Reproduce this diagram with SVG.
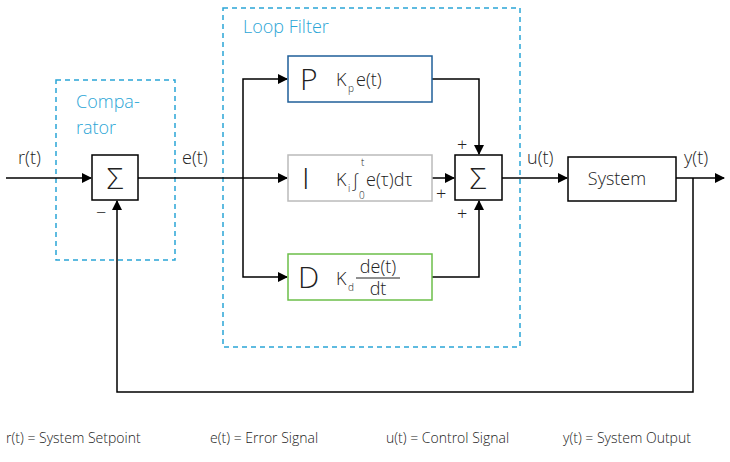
<svg xmlns="http://www.w3.org/2000/svg" width="730" height="462" viewBox="0 0 730 462">
<style>
text{font-family:"Open Sans","DejaVu Sans",sans-serif;fill:#222;font-weight:300}
.ln{stroke:#000;stroke-width:1.5;fill:none}
.dash{stroke:#2aa5d6;stroke-width:1.5;fill:none;stroke-dasharray:5,4}
.lbl{font-size:18px}
.cy{fill:#2aa5d6;font-size:18px}
.big{font-size:30px}
.sm{font-size:18px}
.sub{font-size:10px}
.leg{font-size:14px}
</style>
<defs><marker id="a" markerWidth="10" markerHeight="10" refX="9" refY="5" orient="auto" markerUnits="userSpaceOnUse"><path d="M0,0L10,5L0,10z" fill="#000"/></marker></defs>
<rect width="730" height="462" fill="#fff"/>
<g id="comparator"><rect class="dash" x="56" y="80" width="119" height="180"/><text class="cy" x="76" y="108">Compa-</text><text class="cy" x="76" y="134">rator</text></g>
<g id="loopfilter"><rect class="dash" x="223" y="8" width="297" height="339"/><text class="cy" x="243" y="33">Loop Filter</text></g>
<g id="connectors">
<path class="ln" d="M6,178H91" marker-end="url(#a)"/>
<path class="ln" d="M138,178H287" marker-end="url(#a)"/>
<path class="ln" d="M243,178V79H287" marker-end="url(#a)"/>
<path class="ln" d="M243,178V277H287" marker-end="url(#a)"/>
<path class="ln" d="M432,79H479V154" marker-end="url(#a)"/>
<path class="ln" d="M432,178H454" marker-end="url(#a)"/>
<path class="ln" d="M432,277H479V201" marker-end="url(#a)"/>
<path class="ln" d="M502,178H567" marker-end="url(#a)"/>
<path class="ln" d="M676,178H724" marker-end="url(#a)"/>
<path class="ln" d="M693,178V392H117V201" marker-end="url(#a)"/>
</g>
<g id="sum1"><rect class="ln" x="92" y="155" width="46" height="45" fill="#fff"/><text class="big" x="115" y="189" text-anchor="middle">Σ</text></g>
<g id="P"><rect x="288" y="56" width="144" height="46" fill="#fff" stroke="#1f5f99" stroke-width="1.5"/><text class="big" x="300" y="90">P</text><text class="sm" x="336" y="86">K</text><text class="sub" x="348" y="92">p</text><text class="sm" x="356" y="86">e(t)</text></g>
<g id="I"><rect x="288" y="155" width="144" height="46" fill="#fff" stroke="#bbb" stroke-width="1.5"/><text class="big" x="302" y="189">I</text><text class="sm" x="336" y="186">K</text><text class="sub" x="348" y="192">i</text><text class="sm" x="352" y="187">∫</text><text class="sub" x="359" y="199">0</text><text class="sub" x="361" y="166">t</text><text class="sm" x="366" y="186">e(τ)dτ</text></g>
<g id="D"><rect x="288" y="254" width="144" height="46" fill="#fff" stroke="#6cbf4a" stroke-width="1.5"/><text class="big" x="298" y="288">D</text><text class="sm" x="336" y="285">K</text><text class="sub" x="348" y="291">d</text><text class="sm" x="378" y="273" text-anchor="middle">de(t)</text><line x1="356" y1="278" x2="400" y2="278" stroke="#222"/><text class="sm" x="378" y="295" text-anchor="middle">dt</text></g>
<g id="sum2"><rect class="ln" x="455" y="155" width="47" height="45" fill="#fff"/><text class="big" x="478" y="189" text-anchor="middle">Σ</text></g>
<g id="system"><rect class="ln" x="568" y="157" width="108" height="44" fill="#fff"/><text class="lbl" x="617" y="185" text-anchor="middle">System</text></g>
<g id="labels">
<text class="lbl" x="18" y="164">r(t)</text><text class="lbl" x="182" y="164">e(t)</text><text class="lbl" x="527" y="164">u(t)</text><text class="lbl" x="684" y="164">y(t)</text>
<text class="sm" x="96" y="219">−</text><text class="sm" x="457" y="151">+</text><text class="sm" x="436" y="200">+</text><text class="sm" x="457" y="220">+</text>
<text class="leg" x="6" y="443">r(t) = System Setpoint</text><text class="leg" x="210" y="443">e(t) = Error Signal</text><text class="leg" x="386" y="443">u(t) = Control Signal</text><text class="leg" x="563" y="443">y(t) = System Output</text>
</g>
</svg>
